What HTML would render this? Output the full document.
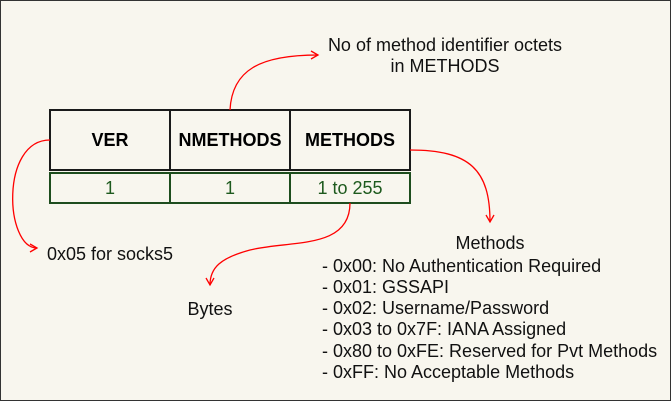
<!DOCTYPE html>
<html><head><style>
body{margin:0;background:#f8f6ee;}
svg{display:block;font-family:"Liberation Sans",sans-serif;}
</style></head><body>
<svg width="671" height="401" viewBox="0 0 671 401">
<rect x="0.5" y="0.5" width="670" height="400" fill="#f8f6ee" stroke="#333" stroke-width="1"/>
<defs><marker id="a" markerWidth="10" markerHeight="10" refX="8" refY="5" orient="auto" markerUnits="userSpaceOnUse"><path d="M1,1 L8,5 L1,9" fill="none" stroke="#f00" stroke-width="1.3"/></marker></defs>
<g fill="none" stroke="#1a1a1a" stroke-width="2">
<rect x="50" y="110" width="360" height="60"/>
<line x1="170" y1="110" x2="170" y2="170"/><line x1="290" y1="110" x2="290" y2="170"/>
</g>
<g fill="none" stroke="#1e4d1e" stroke-width="2">
<rect x="50" y="173" width="360" height="30"/>
<line x1="170" y1="173" x2="170" y2="203"/><line x1="290" y1="173" x2="290" y2="203"/>
</g>
<g font-size="18" font-weight="bold" text-anchor="middle" fill="#000">
<text x="110" y="146">VER</text><text x="230" y="146">NMETHODS</text><text x="350" y="146">METHODS</text>
</g>
<g font-size="18" text-anchor="middle" fill="#1e5a1e">
<text x="110" y="194">1</text><text x="230" y="194">1</text><text x="350" y="194">1 to 255</text>
</g>
<g fill="none" stroke="#f00" stroke-width="1.3">
<path d="M50,140 C0,140 5,248 37,248" marker-end="url(#a)"/>
<path d="M230,110 C232,70 260,55 318,55" marker-end="url(#a)"/>
<path d="M410,150 C470,150 490,170 490,222" marker-end="url(#a)"/>
<path d="M350,203 C350,250 290,240 250,250 C220,258 210,268 210,285" marker-end="url(#a)"/>
</g>
<g font-size="18" fill="#111">
<text x="445" y="51" text-anchor="middle">No of method identifier octets</text>
<text x="445" y="72" text-anchor="middle">in METHODS</text>
<text x="47" y="260">0x05 for socks5</text>
<text x="210" y="315" text-anchor="middle">Bytes</text>
<text x="490" y="249" text-anchor="middle">Methods</text>
<text x="322" y="272">- 0x00: No Authentication Required</text>
<text x="322" y="293">- 0x01: GSSAPI</text>
<text x="322" y="314">- 0x02: Username/Password</text>
<text x="322" y="335">- 0x03 to 0x7F: IANA Assigned</text>
<text x="322" y="357">- 0x80 to 0xFE: Reserved for Pvt Methods</text>
<text x="322" y="378">- 0xFF: No Acceptable Methods</text>
</g>
</svg>
</body></html>
